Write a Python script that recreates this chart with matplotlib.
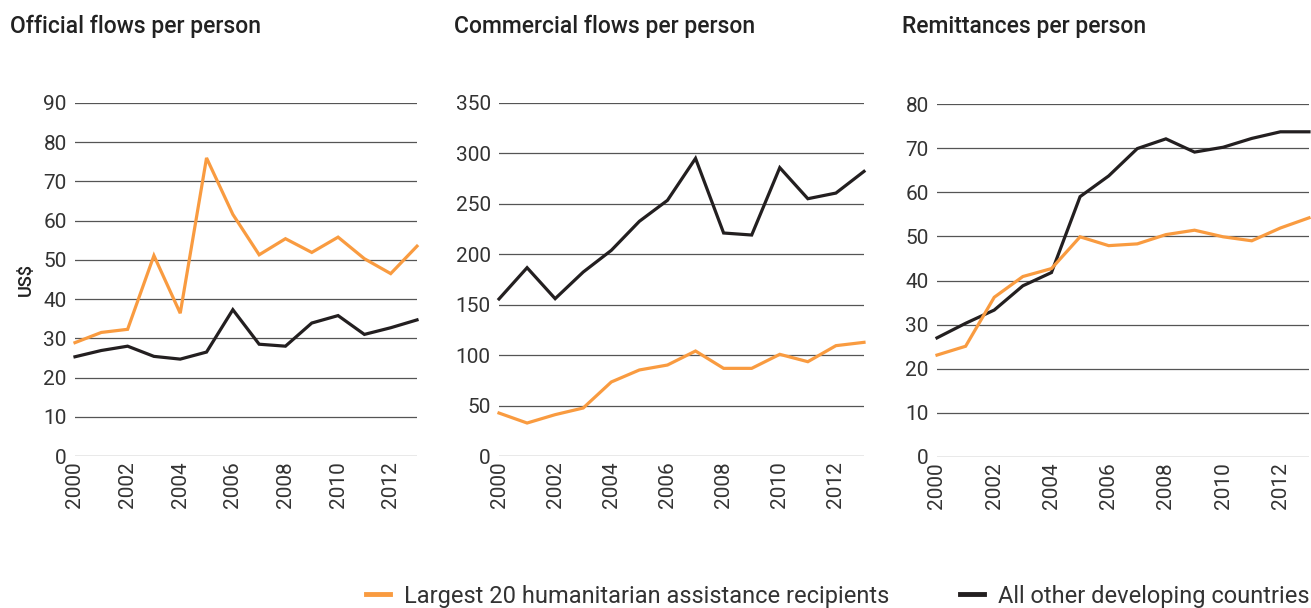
import matplotlib
matplotlib.use("Agg")
import matplotlib.pyplot as plt
from matplotlib.lines import Line2D

plt.rcParams["font.family"] = ["Roboto", "DejaVu Sans"]

years = list(range(2000, 2014))
year_ticks = [2000, 2002, 2004, 2006, 2008, 2010, 2012]

# Official flows per person (US$)
official_top20 = [28.9, 31.5, 32.3, 51.1, 36.4, 76.0, 61.6, 51.3, 55.4, 51.9, 55.8, 50.3, 46.5, 53.5]
official_other = [25.3, 26.9, 28.0, 25.4, 24.7, 26.5, 37.3, 28.5, 28.0, 33.9, 35.8, 31.0, 32.7, 34.7]

# Commercial flows per person (US$)
commercial_top20 = [42.6, 32.7, 41.0, 47.6, 73.4, 85.3, 90.2, 104.1, 86.9, 86.9, 100.8, 93.5, 109.4, 112.7]
commercial_other = [155.7, 186.7, 156.0, 182.4, 203.9, 232.7, 253.5, 295.1, 221.1, 219.1, 285.9, 255.1, 260.7, 282.2]

# Remittances per person (US$)
remit_top20 = [23.1, 25.1, 36.2, 40.9, 42.7, 49.9, 47.9, 48.3, 50.4, 51.4, 49.9, 49.0, 51.9, 54.2]
remit_other = [27.0, 30.3, 33.3, 38.8, 41.8, 59.0, 63.7, 69.9, 72.1, 69.1, 70.2, 72.2, 73.7, 73.7]

titles = ["Official flows per person", "Commercial flows per person", "Remittances per person"]
yticks = [list(range(0, 91, 10)), list(range(0, 351, 50)), list(range(0, 81, 10))]

ORANGE = "#F99B40"
BLACK = "#231F20"
TEXT = "#333333"
GRID = "#555555"

W, H = 1311, 608
fig = plt.figure(figsize=(W / 100, H / 100), dpi=100)

# panel boxes in pixels: left, top, right, bottom
boxes = [(75, 103, 417, 456), (499, 103, 864, 456), (937, 104, 1309, 457)]
title_x = [10, 454, 902]
series = [(official_top20, official_other), (commercial_top20, commercial_other), (remit_top20, remit_other)]

for i, (l, t, r, b) in enumerate(boxes):
    ax = fig.add_axes([l / W, 1 - b / H, (r - l) / W, (b - t) / H])
    top20, other = series[i]
    ax.plot(years, other, color=BLACK, lw=2.3, solid_joinstyle="miter", clip_on=False, zorder=3)
    ax.plot(years, top20, color=ORANGE, lw=2.3, solid_joinstyle="miter", clip_on=False, zorder=4)
    ax.set_xlim(2000, 2013)
    ax.set_ylim(0, yticks[i][-1])
    ax.set_yticks(yticks[i])
    ax.set_xticks(year_ticks)
    ax.set_xticklabels([str(y) for y in year_ticks], rotation=90)
    ax.grid(True, axis="y", color=GRID, lw=0.9)
    ax.set_axisbelow(True)
    for s in ax.spines.values():
        s.set_visible(False)
    ax.tick_params(length=0, labelsize=15, colors=TEXT, pad=6)
    ax.tick_params(axis="x", pad=4)
    fig.text(title_x[i] / W, 1 - 26 / H, titles[i], fontsize=16.5, fontweight="medium",
             color="#222222", ha="left", va="center")
    if i == 0:
        ax.set_ylabel("US$", fontsize=13, fontweight="medium", color="#222222", labelpad=6)

handles = [Line2D([], [], color=ORANGE, lw=3.5), Line2D([], [], color=BLACK, lw=3.5)]
fig.legend(handles, ["Largest 20 humanitarian assistance recipients", "All other developing countries"],
           loc="center", bbox_to_anchor=(838 / W, 1 - 596 / H), ncol=2, frameon=False,
           fontsize=17, labelcolor=TEXT, handlelength=1.0, handletextpad=0.6, columnspacing=3.0)

fig.savefig("out.png", dpi=100)
